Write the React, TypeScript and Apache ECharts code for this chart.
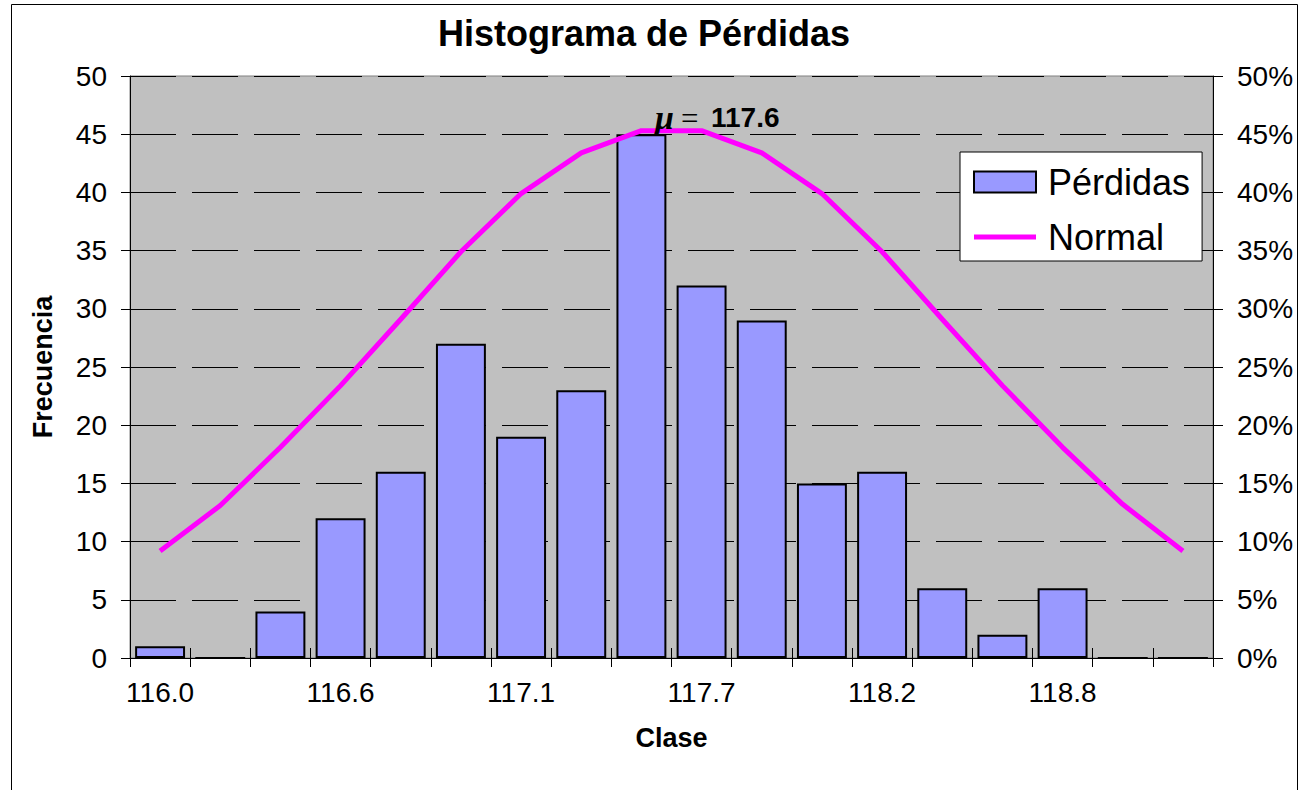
import React, { useEffect, useRef } from "react";
import * as echarts from "echarts";

const categories = [
  "116.0", "116.2", "116.4", "116.6", "116.7", "116.9", "117.1", "117.3", "117.5",
  "117.7", "117.8", "118.0", "118.2", "118.4", "118.6", "118.8", "118.9", "119.1",
];
const frequencies = [1, 0, 4, 12, 16, 27, 19, 23, 45, 32, 29, 15, 16, 6, 2, 6, 0, 0];
const normalPct = [
  9.2, 13.1, 18.1, 23.4, 29.1, 34.9, 39.9, 43.4, 45.3, 45.3, 43.4, 39.9, 34.9, 29.1, 23.4, 18.1, 13.2, 9.2,
];
const title = "Histograma de Pérdidas";
const seriesNames = ["Pérdidas", "Normal"];
const xName = "Clase";
const yName = "Frecuencia";
const meanLabel = "117.6";

export default function App() {
  const ref = useRef<HTMLDivElement>(null);
  useEffect(() => {
    const chart = echarts.init(ref.current!, null, { renderer: "svg" });
    const font = "Arial, 'Liberation Sans', sans-serif";
    const serif = "'Times New Roman', 'Liberation Serif', serif";
    const labelStyle = { fontFamily: font, fontSize: 28, color: "#000" };
    const option: any = {
      animation: false,
      backgroundColor: "#fff",
      title: {
        text: title,
        left: 438,
        top: 15,
        padding: 0,
        textStyle: { fontFamily: font, fontSize: 36, fontWeight: "bold", color: "#000" },
      },
      grid: {
        left: 130,
        top: 76,
        right: 89,
        bottom: 132,
        show: true,
        backgroundColor: "#C0C0C0",
        borderColor: "#808080",
        borderWidth: 1,
      },
      legend: {
        orient: "vertical",
        left: 960,
        top: 152,
        backgroundColor: "#fff",
        borderColor: "#000",
        borderWidth: 1,
        borderRadius: 0,
        padding: [12, 12, 6, 13],
        itemGap: 19,
        itemWidth: 62,
        itemHeight: 21,
        textStyle: { fontFamily: font, fontSize: 36, color: "#000", lineHeight: 36, padding: [0, 0, 0, 7] },
        data: [
          { name: seriesNames[0], icon: "rect" },
          {
            name: seriesNames[1],
            icon: "path://M0,0M0,21M0,8L62,8L62,13L0,13Z",
            itemStyle: { color: "#FF00FF", borderWidth: 0 },
          },
        ],
      },
      xAxis: [
        {
          type: "category",
          data: categories,
          position: "bottom",
          name: xName,
          nameLocation: "middle",
          nameGap: 66,
          nameTextStyle: { fontFamily: font, fontSize: 27, fontWeight: "bold", color: "#000" },
          axisLine: { lineStyle: { color: "#000", width: 1 } },
          axisTick: { show: true, interval: 0, length: 9, lineStyle: { color: "#000" } },
          axisLabel: { ...labelStyle, interval: 2, margin: 20 },
          splitLine: { show: false },
        },
        {
          type: "category",
          data: categories,
          position: "bottom",
          axisLine: { show: false },
          axisTick: { show: true, inside: true, interval: 0, length: 10, lineStyle: { color: "#000" } },
          axisLabel: { show: false },
          splitLine: { show: false },
        },
      ],
      yAxis: [
        {
          type: "value",
          position: "left",
          min: 0,
          max: 50,
          interval: 5,
          name: yName,
          nameLocation: "middle",
          nameGap: 74,
          nameTextStyle: { fontFamily: font, fontSize: 27, fontWeight: "bold", color: "#000" },
          axisLine: { show: true, lineStyle: { color: "#000", width: 1 } },
          axisTick: { show: true, length: 9, lineStyle: { color: "#000" } },
          axisLabel: { ...labelStyle, margin: 23 },
          splitLine: { show: true, lineStyle: { color: "#000", width: 1, type: [46, 16] } },
        },
        {
          type: "value",
          position: "right",
          min: 0,
          max: 50,
          interval: 5,
          axisLine: { show: true, lineStyle: { color: "#000", width: 1 } },
          axisTick: { show: true, length: 10, lineStyle: { color: "#000" } },
          axisLabel: { ...labelStyle, margin: 24, formatter: "{value}%" },
          splitLine: { show: false },
        },
        {
          type: "value",
          position: "left",
          min: 0,
          max: 50,
          interval: 5,
          axisLine: { show: false },
          axisTick: { show: true, inside: true, length: 9, lineStyle: { color: "#000" } },
          axisLabel: { show: false },
          splitLine: { show: false },
        },
        {
          type: "value",
          position: "right",
          min: 0,
          max: 50,
          interval: 5,
          axisLine: { show: false },
          axisTick: { show: true, inside: true, length: 9, lineStyle: { color: "#000" } },
          axisLabel: { show: false },
          splitLine: { show: false },
        },
      ],
      series: [
        {
          name: seriesNames[0],
          type: "bar",
          xAxisIndex: 0,
          yAxisIndex: 0,
          data: frequencies,
          barCategoryGap: "17%",
          itemStyle: { color: "#9999FF", borderColor: "#000", borderWidth: 2 },
        },
        {
          name: seriesNames[1],
          type: "line",
          xAxisIndex: 0,
          yAxisIndex: 1,
          data: normalPct,
          symbol: "none",
          z: 3,
          lineStyle: { color: "#FF00FF", width: 5 },
          itemStyle: { color: "#FF00FF" },
        },
      ],
      graphic: [
        {
          type: "rect",
          left: 9,
          top: 2,
          shape: { width: 1286, height: 900 },
          style: { fill: "none", stroke: "#000", lineWidth: 1 },
          silent: true,
          z: 100,
        },
        {
          type: "text",
          x: 655,
          y: 117,
          z: 100,
          style: { text: "μ", font: `italic bold 34px ${serif}`, fill: "#000", verticalAlign: "middle", align: "left" },
        },
        {
          type: "text",
          x: 681,
          y: 118,
          z: 100,
          style: { text: "=", font: `31px ${serif}`, fill: "#000", verticalAlign: "middle", align: "left" },
        },
        {
          type: "text",
          x: 711,
          y: 117,
          z: 100,
          style: { text: meanLabel, font: `bold 28px ${font}`, fill: "#000", verticalAlign: "middle", align: "left" },
        },
      ],
    };
    chart.setOption(option);
    return () => chart.dispose();
  }, []);
  return (
    <div
      ref={ref}
      style={{ position: "fixed", left: 0, top: 0, width: 1302, height: 790, background: "#fff" }}
    />
  );
}
